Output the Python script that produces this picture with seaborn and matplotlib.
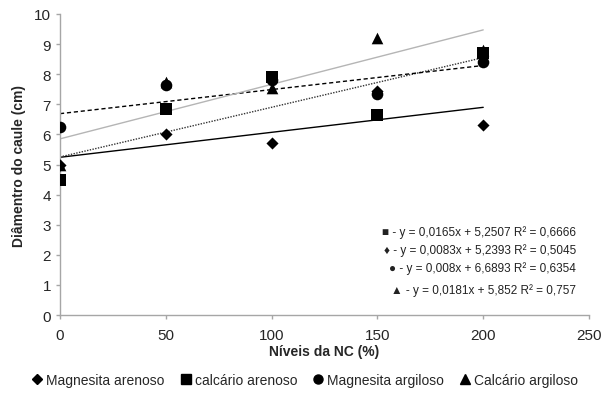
import numpy as np
import pandas as pd
import matplotlib
matplotlib.use("Agg")
import matplotlib.pyplot as plt
import seaborn as sns
from matplotlib.lines import Line2D

# data
niveis = [0, 50, 100, 150, 200]
mag_arenoso = [5.0, 6.0, 5.7, 7.45, 6.3]
calc_arenoso = [4.5, 6.85, 7.9, 6.65, 8.7]
mag_argiloso = [6.25, 7.65, 7.8, 7.35, 8.4]
calc_argiloso = [5.0, 7.75, 7.55, 9.2, 8.8]

series = ["Magnesita arenoso", "calcário arenoso", "Magnesita argiloso", "Calcário argiloso"]
# trendline coefficients (as printed on the chart)
slopes = [0.0083, 0.0165, 0.008, 0.0181]
intercepts = [5.2393, 5.2507, 6.6893, 5.852]
r2 = ["0,5045", "0,6666", "0,6354", "0,757"]
eq_text = ["0,0083x + 5,2393", "0,0165x + 5,2507", "0,008x + 6,6893", "0,0181x + 5,852"]

markers = {"Magnesita arenoso": "D", "calcário arenoso": "s",
           "Magnesita argiloso": "o", "Calcário argiloso": "^"}
msizes = {"Magnesita arenoso": 38, "calcário arenoso": 70,
          "Magnesita argiloso": 70, "Calcário argiloso": 70}
line_styles = ["-", (0, (1, 1)), (0, (3, 2)), "-"]
line_colors = ["black", "#333333", "black", "#b5b5b5"]

df = pd.DataFrame({
    "nivel": niveis * 4,
    "diametro": mag_arenoso + calc_arenoso + mag_argiloso + calc_argiloso,
    "serie": np.repeat(series, len(niveis)),
})

sns.set_style("white")
plt.rcParams["font.family"] = ["Liberation Sans", "DejaVu Sans"]

fig = plt.figure(figsize=(6.08, 4.02), dpi=100)
ax = fig.add_axes([0.0987, 0.2139, 0.8701, 0.7488])

# trendlines
xs = np.array([0, 200])
for s, b, ls, c in zip(slopes, intercepts, line_styles, line_colors):
    ax.plot(xs, s * xs + b, linestyle=ls, color=c, lw=1, zorder=1)

for name in series:
    sub = df[df["serie"] == name]
    sns.scatterplot(data=sub, x="nivel", y="diametro", marker=markers[name],
                    s=msizes[name], color="black", edgecolor="black",
                    linewidth=0, ax=ax, legend=False, zorder=3)

ax.set_xlim(0, 250)
ax.set_ylim(0, 10)
ax.set_xticks(range(0, 251, 50))
ax.set_yticks(range(0, 11))
for sp in ["top", "right"]:
    ax.spines[sp].set_visible(False)
for sp in ["left", "bottom"]:
    ax.spines[sp].set_color("#a6a6a6")
    ax.spines[sp].set_linewidth(1)
ax.tick_params(axis="both", direction="out", length=3, width=1, color="#a6a6a6",
               labelsize=11, bottom=True, left=True)
ax.tick_params(axis="x", pad=6)
ax.set_xlabel("Níveis da NC (%)", fontsize=10, fontweight="bold", labelpad=2)
ax.set_ylabel("Diâmentro do caule (cm)", fontsize=10, fontweight="bold", labelpad=6)

# equation annotations
eq_order = [1, 0, 2, 3]
eq_sym = {0: "\u2666", 1: "\u25a0", 2: "\u25cf", 3: "\u25b2"}
eq_y = [2.77, 2.17, 1.57, 0.86]
for i, yy in zip(eq_order, eq_y):
    ax.text(243.8, yy, f"{eq_sym[i]} - y = {eq_text[i]} R² = {r2[i]}",
            ha="right", va="center", fontsize=8.5, color="#222222")

handles = [Line2D([], [], marker=markers[n], color="black", linestyle="none",
                  markersize=5 if markers[n] == "D" else 6.5) for n in series]
fig.legend(handles, series, loc="center", bbox_to_anchor=(0.5, 0.052), ncol=4,
           frameon=False, fontsize=10, handletextpad=0.15, columnspacing=1.0,
           handlelength=1.0)

fig.savefig("out.png", dpi=100)
